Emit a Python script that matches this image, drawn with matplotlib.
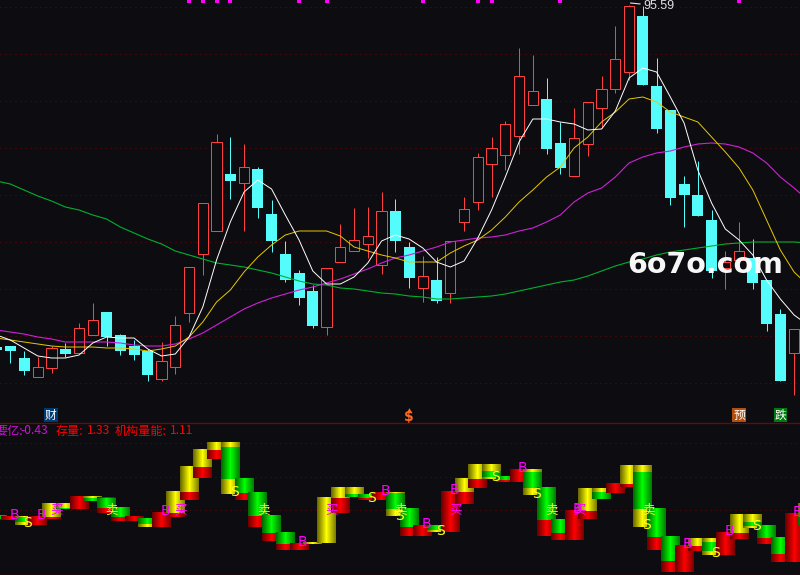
# stock K-line chart with moving averages and a gradient indicator panel below
import matplotlib
matplotlib.use("Agg")
import matplotlib.pyplot as plt
import numpy as np

plt.rcParams['font.family'] = ['Noto Sans CJK SC', 'DejaVu Sans']

# =========================================================
# data, candles run from day -1 to day 57
# =========================================================
days = list(range(-1, 58))
opens = [27.2, 27.4, 25.0, 21.2, 23.0, 26.8, 26.0, 29.6, 34.2, 29.6, 27.4, 26.4, 20.8, 23.2, 34.0,
         45.8, 50.4, 61.8, 60.0, 62.8, 53.8, 45.8, 42.0, 38.4, 31.2, 44.2, 46.4, 47.8, 43.6, 54.4,
         47.2, 39.0, 40.6, 38.0, 52.2, 56.2, 63.8, 65.6, 69.4, 75.6, 76.8, 68.0, 61.4, 67.8, 75.0,
         78.8, 82.2, 93.4, 79.4, 74.6, 59.8, 57.6, 52.6, 43.0, 44.6, 45.0, 40.6, 33.8, 26.0]
closes = [26.6, 26.4, 22.4, 23.2, 27.0, 25.8, 31.0, 32.6, 29.2, 26.4, 25.6, 21.6, 24.4, 31.6, 43.2,
          56.0, 68.2, 60.4, 63.2, 55.0, 48.4, 40.6, 37.0, 31.4, 43.0, 47.2, 48.6, 49.4, 54.4, 48.4,
          41.0, 41.4, 36.4, 48.4, 54.8, 65.2, 67.0, 71.8, 81.4, 78.4, 66.8, 63.0, 69.0, 76.2, 78.8,
          84.8, 95.5, 79.6, 70.8, 57.0, 57.6, 53.4, 42.4, 44.2, 46.4, 40.0, 31.8, 20.4, 30.8]
highs = [27.2, 27.4, 26.4, 25.2, 27.4, 28.0, 32.0, 36.0, 34.2, 29.8, 28.6, 26.8, 28.2, 33.4, 43.2,
         56.0, 69.8, 69.2, 67.8, 63.2, 56.6, 48.4, 42.6, 39.6, 43.0, 51.8, 55.0, 55.2, 58.2, 56.8,
         48.2, 45.4, 45.2, 48.4, 57.2, 66.0, 69.2, 72.4, 87.0, 85.6, 81.0, 72.2, 75.0, 76.2, 81.4,
         91.4, 95.59, 95.5, 85.0, 74.6, 61.4, 64.4, 54.6, 46.4, 52.2, 48.8, 40.6, 34.8, 30.8]
lows = [26.6, 24.0, 21.6, 21.2, 22.0, 25.2, 26.0, 29.6, 27.4, 25.6, 24.6, 20.4, 20.4, 21.8, 32.2,
        41.6, 50.4, 56.8, 50.4, 53.0, 46.2, 40.2, 35.6, 31.0, 29.6, 44.2, 46.4, 45.0, 41.8, 46.2,
        39.0, 36.2, 36.0, 36.0, 50.4, 54.6, 57.2, 62.6, 65.8, 75.6, 65.8, 61.8, 61.4, 65.4, 71.0,
        78.0, 80.6, 79.6, 70.0, 55.6, 51.2, 53.4, 41.0, 38.8, 44.6, 38.8, 30.4, 20.4, 17.6]

# moving averages run one day past the last candle
ma_days = list(range(-1, 59))
ma_white = [29.6, 28.6, 27.0, 25.4, 25.0, 25.0, 25.6, 28.0, 29.2, 29.0, 29.0, 26.8, 25.4, 25.8, 29.2,
            35.2, 44.6, 52.2, 58.2, 60.6, 58.8, 53.6, 48.6, 42.4, 39.8, 39.8, 41.2, 44.0, 48.4, 49.6,
            48.8, 47.0, 44.2, 43.2, 44.4, 49.0, 54.6, 61.2, 68.2, 72.8, 72.8, 72.2, 71.8, 70.6, 70.8,
            74.4, 81.0, 83.0, 82.2, 77.2, 72.0, 62.6, 56.0, 50.8, 48.6, 45.6, 40.6, 36.8, 33.6, 31.6]
ma_yellow = [29.0, 28.6, 28.2, 27.8, 27.4, 27.2, 27.2, 27.2, 27.0, 27.0, 26.8, 26.4, 26.8, 27.4, 29.2,
             32.2, 36.2, 38.6, 42.2, 45.2, 47.6, 49.6, 50.4, 50.4, 50.4, 49.4, 47.2, 46.4, 45.6, 45.0,
             44.2, 44.2, 44.2, 46.0, 47.4, 48.6, 50.6, 53.2, 56.2, 58.6, 61.2, 63.2, 67.0, 69.2, 72.2,
             74.2, 76.8, 77.2, 76.2, 74.2, 73.2, 72.2, 69.2, 66.2, 63.0, 58.6, 52.6, 46.6, 42.2, 39.6]
ma_magenta = [30.6, 30.2, 29.8, 29.2, 28.8, 28.2, 28.2, 28.2, 28.2, 28.0, 27.6, 27.4, 27.4, 27.8, 28.8,
              30.0, 31.6, 33.2, 34.8, 36.0, 37.0, 37.8, 38.6, 39.2, 40.0, 40.8, 41.8, 42.8, 44.0, 45.0,
              45.6, 46.4, 47.2, 48.2, 48.6, 49.0, 49.2, 49.6, 50.4, 51.0, 52.2, 53.6, 56.2, 58.0, 59.0,
              61.2, 64.0, 65.2, 66.0, 66.4, 67.2, 67.8, 68.0, 67.8, 67.2, 66.0, 64.0, 61.2, 59.0, 56.6]
ma_green = [60.4, 59.8, 58.6, 57.4, 56.4, 55.2, 54.6, 53.6, 52.8, 51.2, 50.0, 48.8, 47.8, 46.4, 45.6,
            44.8, 44.0, 43.6, 43.2, 42.6, 42.0, 41.2, 40.4, 39.8, 39.6, 39.0, 38.8, 38.4, 38.0, 37.8,
            37.4, 37.2, 36.8, 36.8, 37.0, 37.2, 37.4, 37.8, 38.4, 39.0, 39.6, 40.2, 40.6, 41.4, 42.4,
            43.4, 44.2, 44.8, 45.6, 46.2, 46.6, 47.0, 47.4, 47.8, 48.0, 48.2, 48.2, 48.2, 48.2, 48.0]

peak_label = "95.59"
price_grid = [95.2, 85.8, 76.4, 67.0, 57.6, 48.2, 38.8, 29.4, 20.0]
top_mark_days = [13, 14, 15, 16, 21, 23, 30, 34, 35, 40, 53]

# indicator panel columns
yellow_days = [1, 3, 4, 6, 10, 12, 13, 14, 15, 16, 22, 23, 24, 25, 28, 31, 33, 34, 35, 38, 42, 43,
               45, 46, 50, 51, 53, 54, 58]
yellow_top = [-0.6, 0.7, 0.7, 1.4, -0.8, 1.9, 4.4, 6.1, 6.8, 6.8, -3.2, 1.3, 2.3, 2.3, 1.8, -1.5,
              3.2, 4.6, 4.6, 4.1, 2.2, 2.2, 4.5, 4.5, -2.8, -2.8, -0.4, -0.4, 0.7]
yellow_bot = [-1.5, -0.7, 0.2, 1.0, -1.7, -0.3, 1.8, 4.3, 6.0, 1.6, -3.4, -3.3, 1.2, 1.6, -0.6, -2.2,
              1.8, 3.1, 3.1, 1.5, -0.1, 1.8, 2.6, -1.7, -3.6, -4.5, -2.3, -1.8, -1.5]

green_days = [-1, 1, 4, 6, 7, 8, 10, 16, 17, 18, 19, 20, 25, 26, 28, 29, 31, 35, 36, 38, 39, 40, 43,
              46, 47, 48, 51, 54, 55, 56, 58]
green_top = [-0.5, -0.7, 0.2, 1.2, 1.2, 0.3, -0.8, 6.3, 3.2, 1.8, -0.5, -2.2, 1.6, 1.6, 1.7, 0.2, -1.5,
             3.9, 3.4, 3.8, 2.3, -0.9, 1.8, 3.8, 0.2, -2.6, -3.2, -1.2, -1.5, -2.7, -0.7]
green_bot = [-0.9, -1.2, 0.1, 0.9, 0.2, -0.7, -1.4, 3.1, 1.7, -0.6, -2.3, -3.4, 1.3, 1.2, 0.1, -1.7, -2.0,
             3.3, 3.0, 2.2, -1.0, -2.3, 1.1, 0.1, -2.7, -5.1, -4.1, -1.6, -2.8, -4.4, -1.5]

red_days = [0, 2, 3, 5, 7, 8, 9, 11, 12, 13, 14, 15, 17, 18, 19, 20, 21, 24, 26, 27, 29, 30, 32, 33, 34,
            36, 37, 39, 40, 41, 42, 44, 45, 47, 48, 49, 50, 52, 53, 55, 56, 57]
red_top = [-0.6, -0.6, -0.7, 1.4, 1.3, -0.7, -0.6, -0.2, -0.3, 1.8, 4.3, 6.0, 1.7, -0.6, -2.3, -3.4, -3.3,
           1.2, 1.2, 1.8, -1.7, -1.5, 1.9, 1.8, 3.1, 3.0, 4.1, -1.0, -2.3, 0.0, -0.1, 2.7, 2.6, -2.7, -5.1,
           -3.5, -3.6, -2.2, -2.3, -2.8, -4.4, -0.3]
red_bot = [-1.0, -1.5, -0.9, 0.1, -0.3, -1.1, -1.1, -1.7, -0.7, 1.0, 3.2, 5.1, 1.0, -1.7, -3.1, -4.0, -4.0,
           -0.3, 1.0, 1.0, -2.6, -2.6, -2.2, 0.6, 2.2, 2.8, 2.8, -2.6, -3.0, -3.0, -0.9, 1.7, 2.3, -4.0, -6.2,
           -6.2, -4.1, -4.5, -2.9, -3.4, -5.2, -5.2]

b_days = [0, 2, 11, 21, 27, 30, 32, 37, 41, 49, 52, 57]
b_values = [-0.5, -0.5, -0.1, -3.2, 1.9, -1.4, 2.0, 4.2, 0.1, -3.4, -2.1, -0.2]
s_days = [1, 16, 26, 28, 31, 35, 38, 46, 51, 54]
s_values = [-1.3, 1.8, 1.2, -0.6, -2.1, 3.3, 1.6, -1.5, -4.3, -1.6]
buy_days = [3, 12, 23, 32, 41]
sell_days = [7, 18, 28, 39, 46]
ind_grid = [6.7, 3.35, 0.0]

# =========================================================
# plotting
# =========================================================
BG = '#0d0d11'
RED = '#ff4040'
CYAN = '#54fcfc'
GRID = '#7a0000'
LINE = 0.72  # one pixel at 100 dpi
x_lim = (-0.749, 57.43)

fig = plt.figure(figsize=(8, 5.75), dpi=100, facecolor=BG)
ax = fig.add_axes([0, 153 / 575, 1, 422 / 575], facecolor=BG)
ax2 = fig.add_axes([0, 0, 1, 153 / 575], facecolor=BG)

# price panel
for level in price_grid:
    ax.axhline(level, color=GRID, lw=LINE, ls=(0, (1, 4)), zorder=1)

for d, o, c, h, l in zip(days, opens, closes, highs, lows):
    if c >= o:
        ax.vlines(d, c, h, color=RED, lw=LINE, zorder=2)
        ax.vlines(d, l, o, color=RED, lw=LINE, zorder=2)
        ax.bar(d, c - o, bottom=o, width=0.74, facecolor=BG, edgecolor=RED, lw=LINE, zorder=3, joinstyle='miter')
    else:
        ax.vlines(d, l, h, color=CYAN, lw=LINE, zorder=2)
        ax.bar(d, o - c, bottom=c, width=0.8, facecolor=CYAN, edgecolor='none', zorder=3)

ax.plot(ma_days, ma_green, color='#00b030', lw=0.8, zorder=4)
ax.plot(ma_days, ma_magenta, color='#d020d8', lw=0.8, zorder=5)
ax.plot(ma_days, ma_yellow, color='#e8c800', lw=0.7, zorder=6)
ax.plot(ma_days, ma_white, color='white', lw=0.7, zorder=7)

ax.plot(top_mark_days, [96.4] * len(top_mark_days), ls='none', marker='s', ms=2.2,
        color='#ff00ff', mew=0, zorder=8, clip_on=True)

peak_day = days[highs.index(max(highs))]
ax.annotate(peak_label, xy=(peak_day + 0.1, 96.0), xytext=(9, -2), textcoords='offset points',
            color='#e0e0e0', fontsize=9, va='center', family=['Liberation Sans'], zorder=9,
            arrowprops=dict(arrowstyle='-', color='#e0e0e0', lw=0.8, shrinkA=0, shrinkB=0))

# event tags above the panel divider
for tag, d, face in [('财', 3, '#003a70'), ('预', 53, '#b05010'), ('跌', 56, '#007a10')]:
    ax.text(d - 0.05 if tag == '财' else d, 13.6, tag, color='white', fontsize=8.5, ha='center', va='center',
            bbox=dict(facecolor=face, edgecolor='none', pad=0.6), zorder=9)
ax.text(29, 13.2, '$', color='#ff6a20', fontsize=10, fontweight='bold', ha='center', va='center',
        family=['DejaVu Sans'], zorder=9)
ax.plot([29], [14.6], ls='none', marker='^', ms=3.5, color='#ff6a20', mew=0, zorder=9)

# watermark
ax.text(705 / 800, (422 - 265) / 422, '6o7o.com', transform=ax.transAxes, color='white', fontsize=20.5,
        fontweight='bold', family=['DejaVu Sans'], ha='center', va='center', zorder=10, alpha=0.97)

ax.set_xlim(*x_lim)
ax.set_ylim(12.2, 96.6)
ax.axis('off')

# indicator panel
for level in ind_grid:
    ax2.axhline(level, color=GRID, lw=LINE, ls=(0, (1, 4)), zorder=0.5)

profile = np.concatenate([np.linspace(0.42, 1, 10), np.linspace(0.95, 0.5, 9)])


def draw_columns(col_days, tops, bots, rgb, order):
    colours = np.outer(profile, rgb)[np.newaxis, :, :]
    for d, t, b in zip(col_days, tops, bots):
        ax2.imshow(colours, extent=(d - 0.69, d + 0.69, b, t), aspect='auto',
                   interpolation='nearest', zorder=1 + d + order)


draw_columns(yellow_days, yellow_top, yellow_bot, (1, 1, 0), 1.1)
draw_columns(red_days, red_top, red_bot, (1, 0, 0), 1.2)
draw_columns(green_days, green_top, green_bot, (0, 1, 0), 1.3)

for d, v in zip(b_days, b_values):
    ax2.text(d + 0.27, v, 'B', color='#ff00ff', fontsize=10, ha='center', va='center',
             family=['DejaVu Sans'], zorder=80)
for d, v in zip(s_days, s_values):
    ax2.text(d + 0.27, v, 'S', color='#ffff20', fontsize=10, ha='center', va='center',
             family=['DejaVu Sans'], zorder=80)
for d in buy_days:
    ax2.text(d + 0.38, 0, '买', color='#ff00ff', fontsize=9, ha='center', va='center', zorder=81)
for d in sell_days:
    ax2.text(d + 0.38, 0, '卖', color='#ffff20', fontsize=9, ha='center', va='center', zorder=81)

# header texts of the indicator panel
header = [('要亿:', -5, '#d010d8'), ('-0.43', 20, '#d010d8'), ('存量:', 56, '#ff0000'), ('1.33', 87, '#ff0000'),
          ('机构量能:', 115, '#ff0000'), ('1.11', 170, '#ff0000')]
for label, x_px, colour in header:
    ax2.text(x_px / 800, (575 - 431) / 153, label, transform=ax2.transAxes, color=colour, fontsize=8.7,
             ha='left', va='center', zorder=90)

ax2.set_xlim(*x_lim)
ax2.set_ylim(-6.5, 8.8)
ax2.axis('off')

# panel borders
for y_px in (422.5, 574.5):
    fig.add_artist(plt.Line2D([0, 1], [1 - y_px / 575] * 2, color='#800000', lw=0.9))

fig.savefig('out.png', dpi=100, facecolor=BG)
